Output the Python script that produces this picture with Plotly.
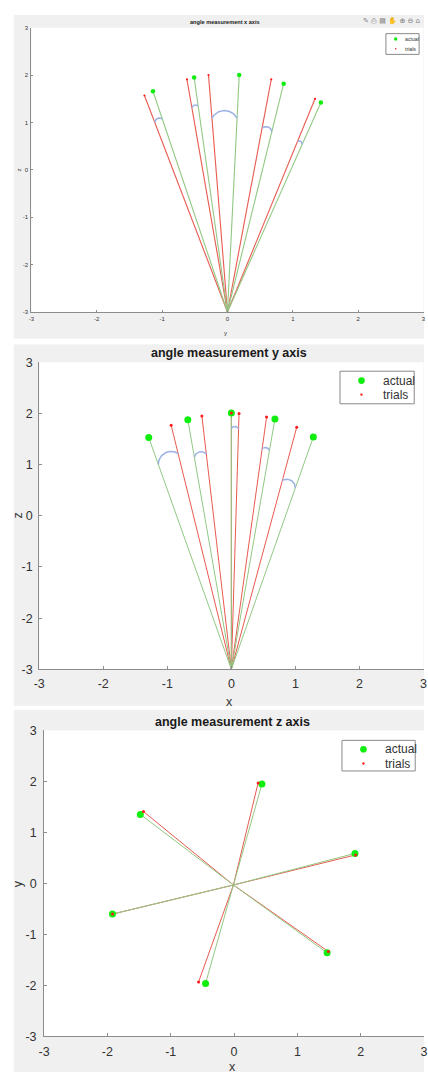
import numpy as np
import plotly.graph_objects as go

W, H = 428, 1079

# ---------------- data ----------------
# Panel 1: angle measurement x axis (y-z plane)
p1_actual_h = [-1.14, -0.51, 0.18, 0.86, 1.43]
p1_actual_v = [1.66, 1.95, 2.00, 1.82, 1.42]
p1_trial_h = [-1.27, -0.62, -0.29, 0.67, 1.34]
p1_trial_v = [1.57, 1.91, 2.00, 1.91, 1.50]
p1_origin = (0.0, -3.0)
p1_arc_pairs = [(0, 0), (1, 1), (2, 2), (3, 3), (4, 4)]
p1_arc_t = [0.875, 0.878, 0.818, 0.79, 0.80]

# Panel 2: angle measurement y axis (x-z plane)
p2_actual_h = [-1.29, -0.68, 0.00, 0.68, 1.28]
p2_actual_v = [1.53, 1.88, 2.01, 1.89, 1.54]
p2_trial_h = [-0.94, -0.46, 0.00, 0.12, 0.55, 1.02]
p2_trial_v = [1.77, 1.95, 2.01, 2.00, 1.93, 1.73]
p2_origin = (0.0, -3.0)
p2_arc_pairs = [(0, 0), (1, 1), (2, 3), (3, 4), (4, 5)]
p2_arc_t = [0.884, 0.85, 0.94, 0.874, 0.78]

# Panel 3: angle measurement z axis (x-y plane)
p3_actual_h = [-1.48, 0.44, 1.91, 1.47, -0.45, -1.92]
p3_actual_v = [1.355, 1.95, 0.59, -1.36, -1.96, -0.60]
p3_trial_h = [-1.43, 0.38, 1.92, 1.49, -0.56, -1.92]
p3_trial_v = [1.41, 1.97, 0.56, -1.335, -1.93, -0.60]
p3_origin = (-0.01, -0.03)
p3_arc_pairs = []
p3_arc_t = []

titles = ["angle measurement x axis", "angle measurement y axis", "angle measurement z axis"]
h_labels = ["y", "x", "x"]
v_labels = ["z", "z", "y"]
legend_labels = ["actual", "trials"]
tick_vals = [-3, -2, -1, 0, 1, 2, 3]
tick_text = ["-3", "-2", "-1", "0", "1", "2", "3"]

# ---------------- layout geometry (pixels) ----------------
FONT = "Liberation Sans, Arial, sans-serif"
panels = [
    dict(gray=(8, 8, 428, 336), plot=(26, 21, 427.5, 309), font=5.6, tick=6, mk_g=4.5, mk_r=2.2,
         title_y=15, hlab_y=330, vlab_x=13, tickstand=1, lw=1.1,
         legend=dict(box=(389, 27, 423, 48), gx=399, gy=(32.5, 42.3), tx=407, gd=3.6, rd=1.6, fs=5.2)),
    dict(gray=(8, 342, 428, 708), plot=(34, 360, 427.5, 671), font=12.5, tick=12.5, mk_g=7, mk_r=3,
         title_y=351, hlab_y=704, vlab_x=12, tickstand=3, lw=1,
         legend=dict(box=(342, 369, 418, 402), gx=364, gy=(378.5, 392.7), tx=384, gd=6.8, rd=2.4, fs=12)),
    dict(gray=(8, 712, 428, 1079), plot=(39, 733, 428, 1043), font=12.5, tick=12.5, mk_g=7, mk_r=3,
         title_y=724, hlab_y=1074, vlab_x=13, tickstand=4, lw=1,
         legend=dict(box=(344, 743, 419, 774), gx=366, gy=(752, 766.5), tx=386, gd=6.8, rd=2.4, fs=12)),
]
data = [
    (p1_actual_h, p1_actual_v, p1_trial_h, p1_trial_v, p1_origin, p1_arc_pairs, p1_arc_t),
    (p2_actual_h, p2_actual_v, p2_trial_h, p2_trial_v, p2_origin, p2_arc_pairs, p2_arc_t),
    (p3_actual_h, p3_actual_v, p3_trial_h, p3_trial_v, p3_origin, p3_arc_pairs, p3_arc_t),
]

GREEN_LINE = "#92c884"
RED_LINE = "#e85a50"
GREEN_MK = "#10ee10"
RED_MK = "#ff1a1a"
ARC = "#9cb2e4"
AXIS = "#8c8c8c"
TEXT = "#333333"
GRAY = "#f0f0f0"


def px(x):
    return x / W


def py(y):
    return 1 - y / H


def spokes(origin, hs, vs):
    xs, ys = [], []
    for h, v in zip(hs, vs):
        xs += [origin[0], h, None]
        ys += [origin[1], v, None]
    return xs, ys


def arc_points(origin, pa, pb, t, sx, sy, k=0.3, n=40):
    o = np.array([origin[0] * sx, origin[1] * sy])
    p1 = np.array([(origin[0] + t * (pa[0] - origin[0])) * sx, (origin[1] + t * (pa[1] - origin[1])) * sy])
    p2 = np.array([(origin[0] + t * (pb[0] - origin[0])) * sx, (origin[1] + t * (pb[1] - origin[1])) * sy])
    c = p2 - p1
    L = np.hypot(c[0], c[1])
    m = (p1 + p2) / 2
    nrm = np.array([-c[1], c[0]]) / L
    if np.dot(nrm, m - o) < 0:
        nrm = -nrm
    s = k * L
    R = (L * L / 4 + s * s) / (2 * s)
    C = m - nrm * (R - s)
    a1 = np.arctan2(p1[1] - C[1], p1[0] - C[0])
    a2 = np.arctan2(p2[1] - C[1], p2[0] - C[0])
    d = (a2 - a1 + np.pi) % (2 * np.pi) - np.pi
    a = a1 + d * np.linspace(0, 1, n)
    return list((C[0] + R * np.cos(a)) / sx), list((C[1] + R * np.sin(a)) / sy)


fig = go.Figure()
shapes, annotations = [], []
layout = {}

for i, (pan, (ah, av, th, tv, org, pairs, ts)) in enumerate(zip(panels, data)):
    n = i + 1
    xa = "x" if n == 1 else f"x{n}"
    ya = "y" if n == 1 else f"y{n}"
    l, t, r, b = pan["plot"]
    gl, gt, gr, gb = pan["gray"]
    shapes.append(dict(type="rect", xref="paper", yref="paper", x0=px(gl), x1=px(gr), y0=py(gb), y1=py(gt),
                       fillcolor=GRAY, line=dict(width=0), layer="below"))
    shapes.append(dict(type="rect", xref="paper", yref="paper", x0=px(l), x1=px(r), y0=py(b), y1=py(t),
                       fillcolor="white", line=dict(width=0), layer="below"))
    sx = (r - l) / 6.0
    sy = (b - t) / 6.0

    # trial spokes (red) then actual spokes (green)
    xs, ys = spokes(org, th, tv)
    fig.add_trace(go.Scatter(x=xs, y=ys, mode="lines", line=dict(color=RED_LINE, width=pan["lw"]),
                             xaxis=xa, yaxis=ya, showlegend=False, hoverinfo="skip"))
    xs, ys = spokes(org, ah, av)
    fig.add_trace(go.Scatter(x=xs, y=ys, mode="lines", line=dict(color=GREEN_LINE, width=pan["lw"]),
                             xaxis=xa, yaxis=ya, showlegend=False, hoverinfo="skip"))
    # angle arcs
    for (ia, it), tt in zip(pairs, ts):
        ax_, ay_ = arc_points(org, (ah[ia], av[ia]), (th[it], tv[it]), tt, sx, sy)
        fig.add_trace(go.Scatter(x=ax_, y=ay_, mode="lines", line=dict(color=ARC, width=1.5),
                                 xaxis=xa, yaxis=ya, showlegend=False, hoverinfo="skip"))
    fig.add_trace(go.Scatter(x=ah, y=av, mode="markers", name=legend_labels[0],
                             marker=dict(color=GREEN_MK, size=pan["mk_g"]), xaxis=xa, yaxis=ya, showlegend=False))
    fig.add_trace(go.Scatter(x=th, y=tv, mode="markers", name=legend_labels[1],
                             marker=dict(color=RED_MK, size=pan["mk_r"]), xaxis=xa, yaxis=ya, showlegend=False))

    common = dict(range=[-3, 3], tickvals=tick_vals, ticktext=tick_text, showgrid=False, zeroline=False,
                  showline=True, linecolor=AXIS, linewidth=1, ticks="inside", ticklen=3 if n > 1 else 2,
                  tickcolor=AXIS, tickfont=dict(family=FONT, size=pan["tick"], color=TEXT), fixedrange=True,
                  ticklabelstandoff=pan["tickstand"], ticklabeloverflow="allow")
    layout["xaxis" if n == 1 else f"xaxis{n}"] = dict(common, domain=[px(l), px(r)], anchor=ya)
    layout["yaxis" if n == 1 else f"yaxis{n}"] = dict(common, domain=[py(b), py(t)], anchor=xa)

    cx = (l + r) / 2 - 2
    annotations.append(dict(text="<b>" + titles[i] + "</b>", x=px(cx), y=py(pan["title_y"]), xref="paper",
                            yref="paper", showarrow=False, xanchor="center", yanchor="middle",
                            font=dict(family=FONT, size=pan["font"], color="#1a1a1a")))
    annotations.append(dict(text=h_labels[i], x=px(cx), y=py(pan["hlab_y"]), xref="paper", yref="paper",
                            showarrow=False, xanchor="center", yanchor="middle",
                            font=dict(family=FONT, size=pan["tick"], color=TEXT)))
    annotations.append(dict(text=v_labels[i], x=px(pan["vlab_x"]), y=py((t + b) / 2), xref="paper", yref="paper",
                            showarrow=False, xanchor="center", yanchor="middle", textangle=-90,
                            font=dict(family=FONT, size=pan["tick"], color=TEXT)))

    lg = pan["legend"]
    bl, bt, br, bb = lg["box"]
    shapes.append(dict(type="rect", xref="paper", yref="paper", x0=px(bl), x1=px(br), y0=py(bb), y1=py(bt),
                       fillcolor="white", line=dict(color="#8a8a8a", width=1), layer="above"))
    for j, (col, dia) in enumerate([(GREEN_MK, lg["gd"]), (RED_MK, lg["rd"])]):
        shapes.append(dict(type="circle", xref="paper", yref="paper",
                           x0=px(lg["gx"] - dia / 2), x1=px(lg["gx"] + dia / 2),
                           y0=py(lg["gy"][j] + dia / 2), y1=py(lg["gy"][j] - dia / 2),
                           fillcolor=col, line=dict(width=0), layer="above"))
        annotations.append(dict(text=legend_labels[j], x=px(lg["tx"]), y=py(lg["gy"][j]), xref="paper",
                                yref="paper", showarrow=False, xanchor="left", yanchor="middle",
                                font=dict(family=FONT, size=lg["fs"], color=TEXT)))

# MATLAB figure toolbar (top right of first panel)
annotations.append(dict(text="✎ ⎙ ▤ ✋ ⊕ ⊖ ⌂", x=px(426), y=py(14), xref="paper", yref="paper",
                        showarrow=False, xanchor="right", yanchor="middle",
                        font=dict(family="DejaVu Sans", size=7, color="#7a7a7a")))

fig.update_layout(width=W, height=H, margin=dict(l=0, r=0, t=0, b=0), paper_bgcolor="white",
                  plot_bgcolor="white", showlegend=False, shapes=shapes, annotations=annotations, **layout)

fig.write_html("out.html", config={"displayModeBar": False},
               post_script="document.body.style.margin='0';document.body.style.padding='0';"
                           "document.documentElement.style.overflow='hidden';"
                           "document.body.style.overflow='hidden';")
